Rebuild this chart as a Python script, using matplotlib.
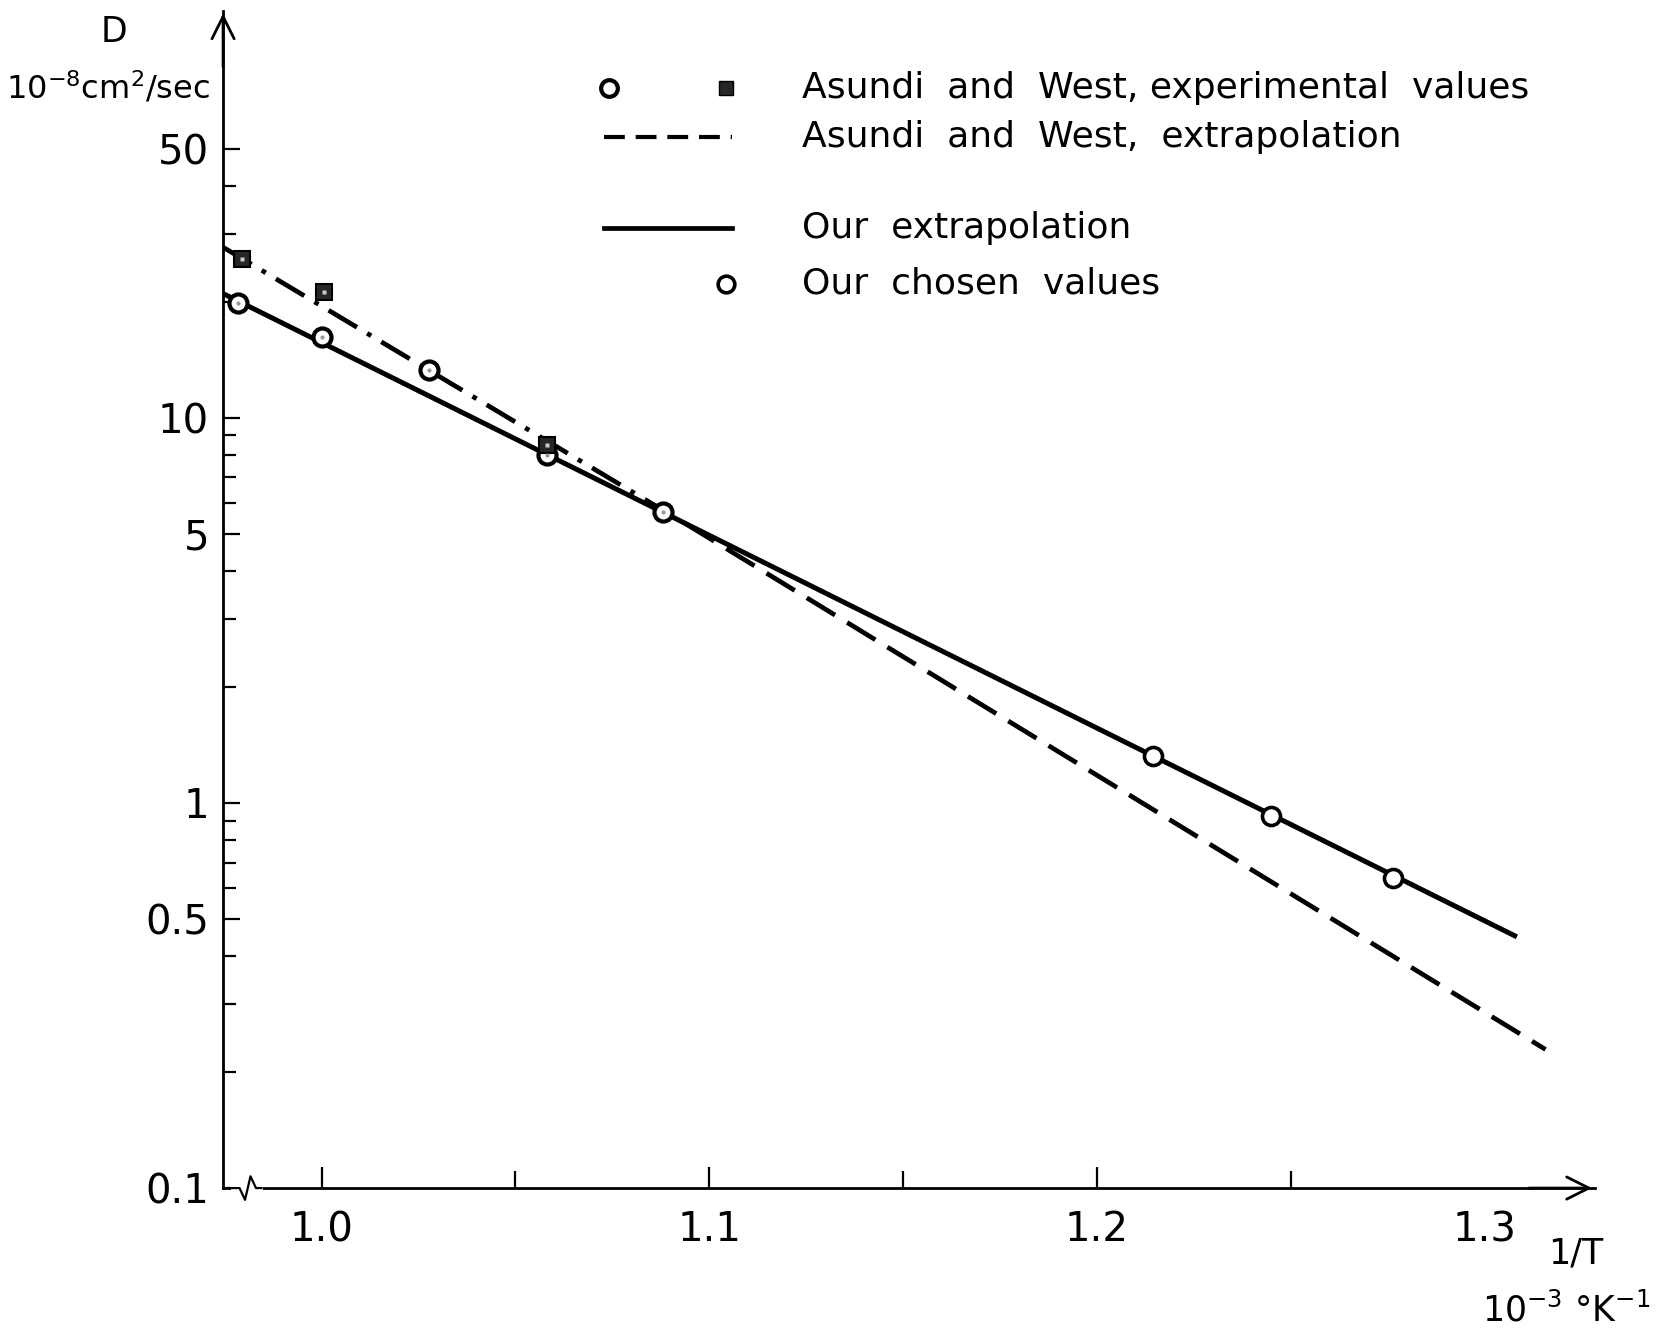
import numpy as np
import matplotlib
matplotlib.use("Agg")
import matplotlib.pyplot as plt
from matplotlib.ticker import FixedLocator, NullFormatter

# Données (x = 1/T en 10^-3 K^-1, D en 10^-8 cm2/s)
exp_cercles_x = [0.9784, 1.0, 1.0277, 1.0581, 1.0882]
exp_cercles_D = [19.9, 16.2, 13.3, 8.0, 5.7]
exp_carres_x = [0.9795, 1.0006, 1.0581]
exp_carres_D = [25.8, 21.2, 8.5]

# Extrapolation Asundi et West (partie expérimentale, puis extrapolée)
aw_x = [0.9746, 1.094, 1.3158]
aw_D = [27.7, 5.3, 0.229]

# Notre extrapolation et nos valeurs choisies
notre_x = [0.9746, 1.3084]
notre_D = [21.0, 0.449]
choisis_x = [1.2146, 1.245, 1.2765]
choisis_D = [1.32, 0.926, 0.638]

y_majeurs = [0.1, 0.5, 1, 5, 10, 50]
y_labels = ["0.1", "0.5", "1", "5", "10", "50"]
y_mineurs = [0.2, 0.3, 0.4, 0.6, 0.7, 0.8, 0.9, 2, 3, 4, 6, 7, 8, 9, 20, 30, 40]
x_majeurs = [1.0, 1.1, 1.2, 1.3]
x_labels = ["1.0", "1.1", "1.2", "1.3"]
x_mineurs = [1.05, 1.15, 1.25]

plt.rcParams['font.family'] = ['DejaVu Sans']
fig = plt.figure(figsize=(16.81, 13.34), dpi=100)
ax = fig.add_axes([0.1327, 0.1094, 0.816, 0.8826])
ax.set_yscale('log')
ax.set_xlim(0.97456, 1.3285)
ax.set_ylim(0.1, 114)

# Courbes
ax.plot(aw_x[:2], aw_D[:2], color='black', lw=3.4, dashes=(7, 2.5, 1, 2.5), zorder=2)
ax.plot(aw_x[1:], aw_D[1:], color='black', lw=3.4, dashes=(7, 3), zorder=2)
ax.plot(notre_x, notre_D, color='black', lw=3.6, solid_capstyle='butt', zorder=2)

# Points
ax.plot(exp_cercles_x, exp_cercles_D, 'o', ms=13, mfc='white', mec='black', mew=3, zorder=3)
ax.plot(exp_cercles_x, exp_cercles_D, 'o', ms=3, mfc='0.6', mec='none', zorder=4)
ax.plot(exp_carres_x, exp_carres_D, 's', ms=11, mfc='0.15', mec='black', mew=1.5, zorder=3)
ax.plot(exp_carres_x, exp_carres_D, 's', ms=3, mfc='0.8', mec='none', zorder=4)
ax.plot(choisis_x, choisis_D, 'o', ms=13, mfc='white', mec='black', mew=2.6, zorder=3)

# Axes
for s in ['top', 'right']:
    ax.spines[s].set_visible(False)
for s in ['left', 'bottom']:
    ax.spines[s].set_linewidth(2)
ax.yaxis.set_major_locator(FixedLocator(y_majeurs))
ax.yaxis.set_minor_locator(FixedLocator(y_mineurs))
ax.set_yticklabels(y_labels)
ax.yaxis.set_minor_formatter(NullFormatter())
ax.xaxis.set_major_locator(FixedLocator(x_majeurs))
ax.xaxis.set_minor_locator(FixedLocator(x_mineurs))
ax.set_xticklabels(x_labels)
ax.tick_params(axis='y', which='major', direction='in', length=12, width=1.6,
               labelsize=29, pad=10)
ax.tick_params(axis='y', which='minor', direction='in', length=9, width=1.6)
ax.tick_params(axis='x', which='major', direction='in', length=15, width=1.6,
               labelsize=29, pad=16)
ax.tick_params(axis='x', which='minor', direction='in', length=12, width=1.6)
ax.xaxis.get_major_ticks()[-1].tick1line.set_visible(False)

# Flèches des axes
fleche = dict(arrowstyle='->', lw=2, mutation_scale=40, color='black')
ax.annotate('', xy=(1.0, 0), xytext=(0.95, 0), xycoords='axes fraction',
            arrowprops=fleche, annotation_clip=False)
ax.annotate('', xy=(0, 1.0), xytext=(0, 0.95), xycoords='axes fraction',
            arrowprops=fleche, annotation_clip=False)

# Coupure de l'axe des x
ax.plot([0.008, 0.026], [0, 0], color='white', lw=5, transform=ax.transAxes,
        clip_on=False, zorder=5)
ax.plot([0.006, 0.012, 0.016, 0.020, 0.024, 0.028], [0, 0, -0.010, 0.010, 0, 0],
        color='black', lw=1.6, transform=ax.transAxes, clip_on=False, zorder=6)

# Titres des axes
fig.text(0.068, 0.976, "D", fontsize=25, ha='center', va='center')
fig.text(0.064, 0.934, r"10$^{-8}$cm$^{2}$/sec", fontsize=23, ha='center', va='center')
fig.text(0.9375, 0.060, "1/T", fontsize=25, ha='center', va='center')
fig.text(0.932, 0.018, r"10$^{-3}$ °K$^{-1}$", fontsize=25, ha='center', va='center')

# Légende
t = ax.transAxes
ax.plot([0.281], [0.934], 'o', ms=12, mfc='white', mec='black', mew=3, transform=t, clip_on=False)
ax.plot([0.367], [0.934], 's', ms=10, mfc='0.15', mec='black', transform=t, clip_on=False)
ax.plot([0.278, 0.371], [0.893, 0.893], color='black', lw=3, dashes=(5, 2.6), transform=t)
ax.plot([0.278, 0.371], [0.815, 0.815], color='black', lw=3.4, transform=t)
ax.plot([0.367], [0.768], 'o', ms=12, mfc='white', mec='black', mew=2.6, transform=t, clip_on=False)
kw = dict(fontsize=26, va='center', ha='left', transform=t)
ax.text(0.422, 0.934, "Asundi  and  West, experimental  values", **kw)
ax.text(0.422, 0.893, "Asundi  and  West,  extrapolation", **kw)
ax.text(0.422, 0.815, "Our  extrapolation", **kw)
ax.text(0.422, 0.768, "Our  chosen  values", **kw)

fig.savefig("out.png", dpi=100)
